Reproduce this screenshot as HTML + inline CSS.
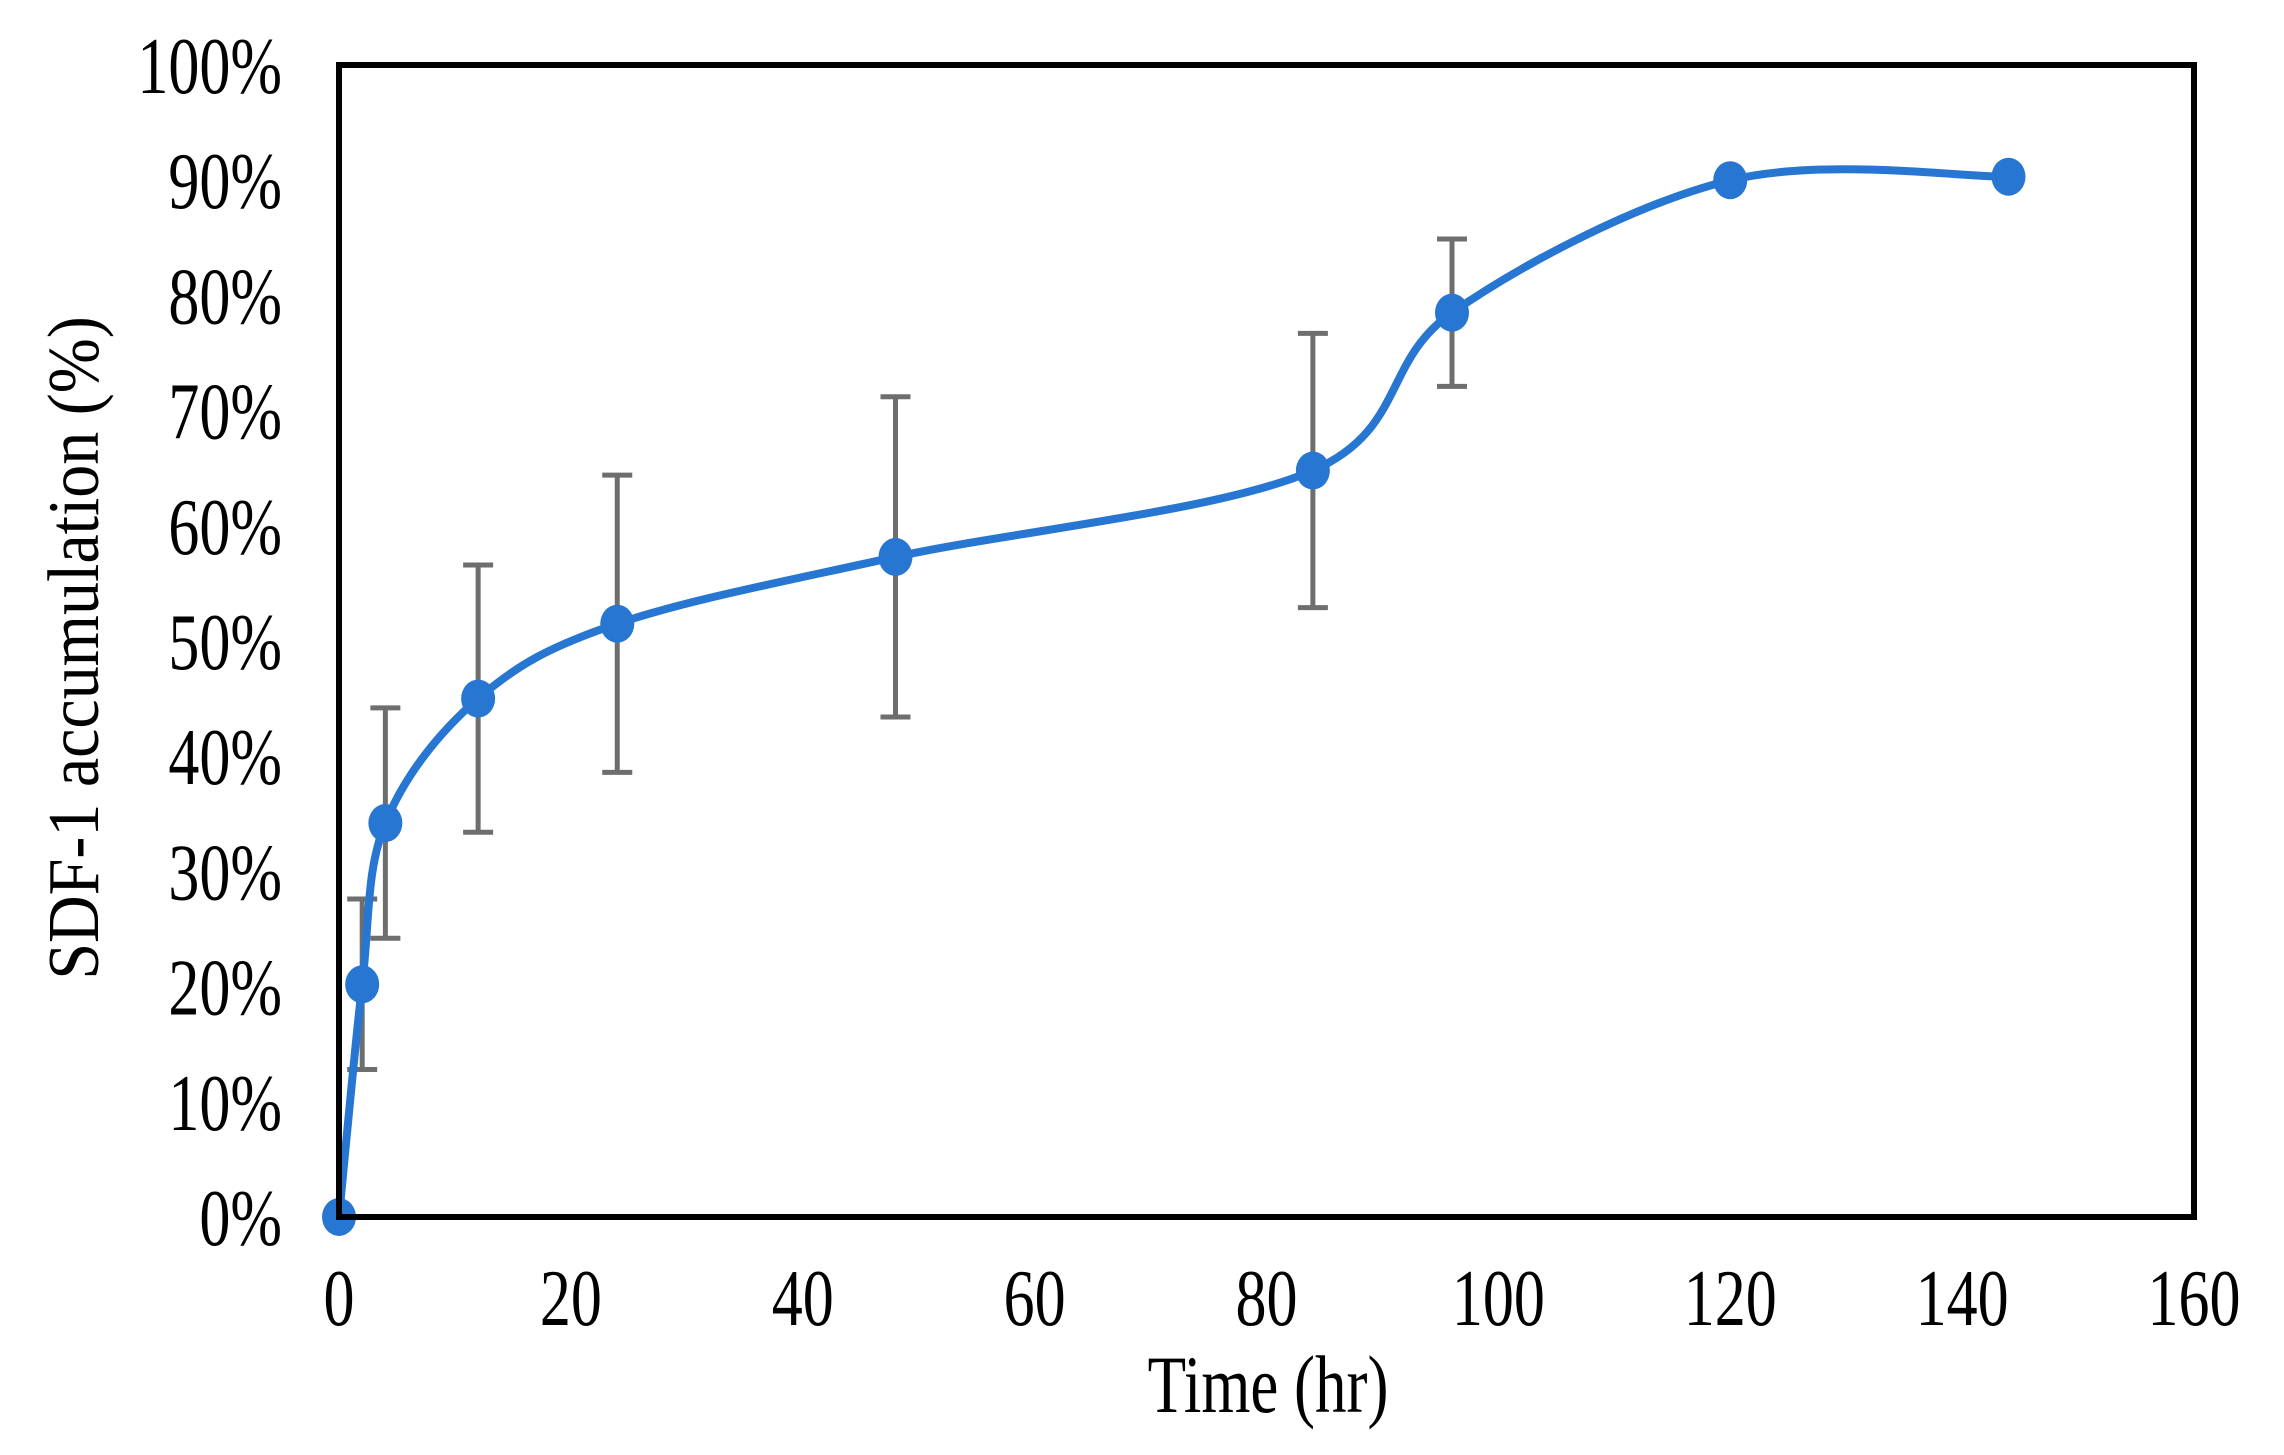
<!DOCTYPE html>
<html><head><meta charset="utf-8"><style>
html,body{margin:0;padding:0;background:#fff;}
svg{display:block;font-family:"Liberation Serif",serif;}
</style></head><body>
<svg id="chart" width="2284" height="1455" viewBox="0 0 2284 1455">
<g id="yticks"></g>
<g id="xticks"></g>
<g id="errs"></g>
<path id="curve" fill="none" stroke="#2676D2" stroke-width="8"/>
<g id="pts"></g>
<rect x="339" y="65" width="1855" height="1152" fill="none" stroke="#000" stroke-width="6"/>
<text transform="translate(1268,1412) scale(1,1.3)" font-size="63" text-anchor="middle">Time (hr)</text>
<text transform="translate(98,648) rotate(-90) scale(1,1.1)" font-size="66" text-anchor="middle">SDF-1 accumulation (%)</text>
</svg>
<script>
const times=[0,2,4,12,24,48,84,96,120,144];
const values=[0,20.2,34.2,45,51.5,57.3,64.8,78.5,90,90.3];
const errors=[0,7.4,10,11.6,12.9,13.9,11.9,6.4,0,0];
const xTicks=[0,20,40,60,80,100,120,140,160];
const yTicks=[0,10,20,30,40,50,60,70,80,90,100];
const NS="http://www.w3.org/2000/svg";
function X(v){return 339+v/160*1855;}
function Y(v){return 1217-v/100*1152;}
function mk(tag,attrs,parent){const e=document.createElementNS(NS,tag);for(const k in attrs)e.setAttribute(k,attrs[k]);parent.appendChild(e);return e;}
const yg=document.getElementById('yticks');
yTicks.forEach(t=>{const e=mk('text',{transform:`translate(282,${Y(t)+28}) scale(1,1.3)`,'font-size':62,'text-anchor':'end'},yg);e.textContent=t+'%';

});
const xg=document.getElementById('xticks');
xTicks.forEach(t=>{const e=mk('text',{transform:`translate(${X(t)},1325) scale(1,1.3)`,'font-size':62,'text-anchor':'middle'},xg);e.textContent=t;

});
const eg=document.getElementById('errs');
times.forEach((t,i)=>{if(!errors[i])return;const x=X(t),y1=Y(values[i]+errors[i]),y2=Y(values[i]-errors[i]);
const g=mk('path',{d:`M${x},${y1}V${y2}M${x-15},${y1}H${x+15}M${x-15},${y2}H${x+15}`,stroke:'#6e6e6e','stroke-width':5,fill:'none'},eg);

});
const P=times.map((t,i)=>[X(t),Y(values[i])]);
let d=`M${P[0][0]},${P[0][1]}`;
for(let i=0;i<P.length-1;i++){const p0=P[Math.max(i-1,0)],p1=P[i],p2=P[i+1],p3=P[Math.min(i+2,P.length-1)];
const c1=[p1[0]+(p2[0]-p0[0])/6,p1[1]+(p2[1]-p0[1])/6],c2=[p2[0]-(p3[0]-p1[0])/6,p2[1]-(p3[1]-p1[1])/6];
d+=`C${c1[0]},${c1[1]} ${c2[0]},${c2[1]} ${p2[0]},${p2[1]}`;}
document.getElementById('curve').setAttribute('d',d);
const pg=document.getElementById('pts');
P.forEach(p=>{const c=mk('ellipse',{cx:p[0],cy:p[1],rx:17,ry:19,fill:'#2676D2'},pg);

});
</script>
</body></html>
